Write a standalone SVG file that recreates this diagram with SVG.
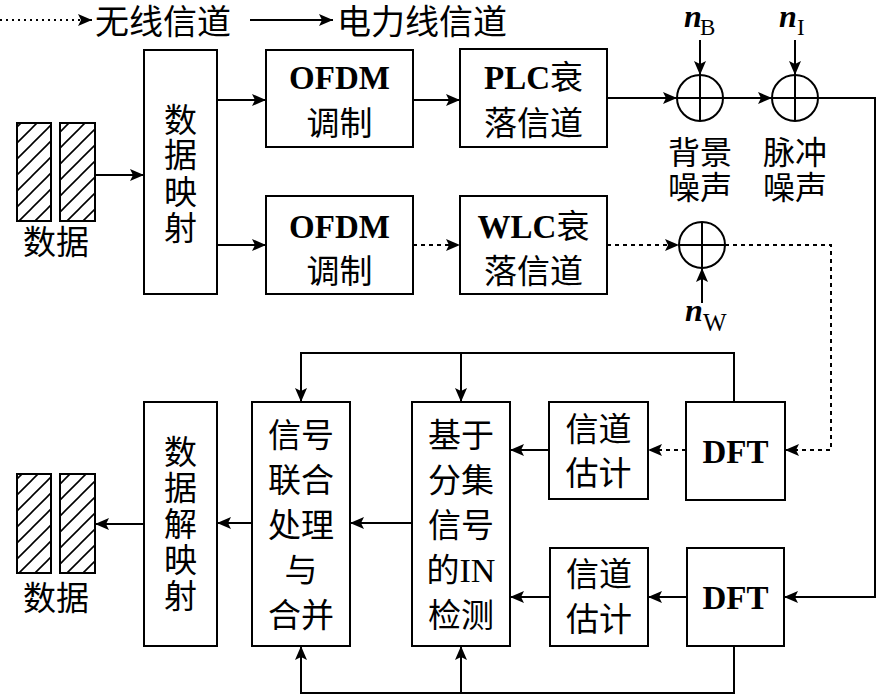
<svg xmlns="http://www.w3.org/2000/svg" width="879" height="697" viewBox="0 0 879 697">
<style>
.box{fill:#fff;stroke:#000;stroke-width:2}
.ln{fill:none;stroke:#000;stroke-width:2}
.dot{fill:none;stroke:#000;stroke-width:2;stroke-dasharray:4 4}
.fine{fill:none;stroke:#000;stroke-width:2;stroke-dasharray:2 4}
.cn{font-family:"Noto Sans CJK SC","Noto Sans CJK JP",sans-serif;font-size:33px;fill:#000;text-anchor:middle}
.lat{font-family:"Liberation Serif","Times New Roman",serif;font-weight:bold;font-size:33px;fill:#000}
.it{font-family:"Liberation Serif","Times New Roman",serif;font-style:italic;font-weight:bold;font-size:32px;fill:#000}
.sub{font-family:"Liberation Serif","Times New Roman",serif;font-size:23px;fill:#000}
.hat{fill:url(#hatch);stroke:#000;stroke-width:2}
</style>
<defs>
<marker id="ah" markerUnits="userSpaceOnUse" markerWidth="14" markerHeight="12" refX="14" refY="6" orient="auto">
<path d="M0,0 L14,6 L0,12 L3,6 Z" fill="#000"/>
</marker>
<pattern id="hatch" patternUnits="userSpaceOnUse" width="16" height="16">
<rect width="16" height="16" fill="#fff"/>
<path d="M-2,18 L18,-2 M-2,2 L2,-2 M14,18 L18,14" stroke="#000" stroke-width="1.6"/>
</pattern>
</defs>

<g id="legend">
<line class="fine" x1="0" y1="20" x2="92" y2="20" marker-end="url(#ah)"/>
<text class="cn" style="font-size:34px;text-anchor:start" x="95" y="34">无线信道</text>
<line class="ln" x1="250" y1="20" x2="333" y2="20" marker-end="url(#ah)"/>
<text class="cn" style="font-size:34px;text-anchor:start" x="337" y="34">电力线信道</text>
</g>

<g id="connectors">
<line class="ln" x1="95" y1="175" x2="144" y2="175" marker-end="url(#ah)"/>
<line class="ln" x1="217" y1="100" x2="266" y2="100" marker-end="url(#ah)"/>
<line class="ln" x1="217" y1="245" x2="266" y2="245" marker-end="url(#ah)"/>
<line class="ln" x1="413" y1="100" x2="460" y2="100" marker-end="url(#ah)"/>
<line class="dot" x1="413" y1="245" x2="460" y2="245" marker-end="url(#ah)"/>
<line class="ln" x1="607" y1="98" x2="677" y2="98" marker-end="url(#ah)"/>
<line class="ln" x1="723" y1="98" x2="772" y2="98" marker-end="url(#ah)"/>
<polyline class="ln" points="818,98 875,98 875,597 784,597" marker-end="url(#ah)"/>
<line class="ln" x1="700" y1="40" x2="700" y2="75" marker-end="url(#ah)"/>
<line class="ln" x1="795" y1="40" x2="795" y2="75" marker-end="url(#ah)"/>
<line class="dot" x1="607" y1="245" x2="679" y2="245" marker-end="url(#ah)"/>
<line class="ln" x1="702" y1="303" x2="702" y2="268" marker-end="url(#ah)"/>
<polyline class="dot" points="725,245 831,245 831,450 785,450" marker-end="url(#ah)"/>
<line class="dot" x1="686" y1="450" x2="648" y2="450" marker-end="url(#ah)"/>
<line class="ln" x1="549" y1="450" x2="510" y2="450" marker-end="url(#ah)"/>
<line class="ln" x1="687" y1="597" x2="648" y2="597" marker-end="url(#ah)"/>
<line class="ln" x1="550" y1="597" x2="510" y2="597" marker-end="url(#ah)"/>
<line class="ln" x1="412" y1="523" x2="350" y2="523" marker-end="url(#ah)"/>
<line class="ln" x1="252" y1="523" x2="217" y2="523" marker-end="url(#ah)"/>
<line class="ln" x1="144" y1="524" x2="95" y2="524" marker-end="url(#ah)"/>
<polyline class="ln" points="734,402 734,353 301,353 301,402" marker-end="url(#ah)"/>
<line class="ln" x1="461" y1="353" x2="461" y2="402" marker-end="url(#ah)"/>
<polyline class="ln" points="734,646 734,693 301,693 301,646" marker-end="url(#ah)"/>
<line class="ln" x1="461" y1="693" x2="461" y2="646" marker-end="url(#ah)"/>
</g>

<g id="data-in">
<rect class="hat" x="17" y="123" width="34" height="98"/>
<rect class="hat" x="60" y="123" width="35" height="98"/>
<text class="cn" x="56" y="254">数据</text>
</g>

<g id="mapping">
<rect class="box" x="144" y="50" width="73" height="244"/>
<text class="cn"><tspan x="180.5" y="132">数</tspan><tspan x="180.5" y="167">据</tspan><tspan x="180.5" y="204">映</tspan><tspan x="180.5" y="240">射</tspan></text>
</g>

<g id="ofdm1">
<rect class="box" x="266" y="50" width="147" height="97"/>
<text class="lat" x="339.5" y="89" text-anchor="middle">OFDM</text>
<text class="cn" x="339.5" y="135">调制</text>
</g>

<g id="ofdm2">
<rect class="box" x="266" y="196" width="147" height="98"/>
<text class="lat" x="339.5" y="238" text-anchor="middle">OFDM</text>
<text class="cn" x="339.5" y="283">调制</text>
</g>

<g id="plc">
<rect class="box" x="460" y="49" width="147" height="98"/>
<text x="533.5" y="89" text-anchor="middle"><tspan class="lat">PLC</tspan><tspan class="cn">衰</tspan></text>
<text class="cn" x="533.5" y="135">落信道</text>
</g>

<g id="wlc">
<rect class="box" x="460" y="196" width="147" height="98"/>
<text x="533.5" y="238" text-anchor="middle"><tspan class="lat">WLC</tspan><tspan class="cn">衰</tspan></text>
<text class="cn" x="533.5" y="283">落信道</text>
</g>

<g id="adder-b">
<circle class="ln" cx="700" cy="98" r="23"/>
<path class="ln" d="M677,98 H723 M700,75 V121"/>
<text class="it" x="684" y="27">n</text><text class="sub" x="700" y="35">B</text>
<text class="cn" style="font-size:32px"><tspan x="700" y="164">背景</tspan><tspan x="700" y="199">噪声</tspan></text>
</g>

<g id="adder-i">
<circle class="ln" cx="795" cy="98" r="23"/>
<path class="ln" d="M772,98 H818 M795,75 V121"/>
<text class="it" x="779" y="27">n</text><text class="sub" x="797" y="35">I</text>
<text class="cn" style="font-size:32px"><tspan x="795" y="164">脉冲</tspan><tspan x="795" y="199">噪声</tspan></text>
</g>

<g id="adder-w">
<circle class="ln" cx="702" cy="245" r="23"/>
<path class="ln" d="M679,245 H725 M702,222 V268"/>
<text class="it" x="685" y="321">n</text><text class="sub" style="font-size:25px" x="703" y="331">W</text>
</g>

<g id="dft1">
<rect class="box" x="686" y="402" width="99" height="98"/>
<text class="lat" x="735.5" y="463" text-anchor="middle">DFT</text>
</g>

<g id="est1">
<rect class="box" x="549" y="402" width="99" height="97"/>
<text class="cn"><tspan x="598.5" y="441">信道</tspan><tspan x="598.5" y="485">估计</tspan></text>
</g>

<g id="dft2">
<rect class="box" x="687" y="548" width="97" height="98"/>
<text class="lat" x="735.5" y="609" text-anchor="middle">DFT</text>
</g>

<g id="est2">
<rect class="box" x="550" y="548" width="98" height="98"/>
<text class="cn"><tspan x="599" y="586">信道</tspan><tspan x="599" y="631">估计</tspan></text>
</g>

<g id="in-detect">
<rect class="box" x="412" y="402" width="98" height="244"/>
<text class="cn"><tspan x="461" y="447">基于</tspan><tspan x="461" y="492">分集</tspan><tspan x="461" y="537">信号</tspan><tspan x="461" y="582">的<tspan class="lat" style="font-weight:normal;font-size:34px">IN</tspan></tspan><tspan x="461" y="627">检测</tspan></text>
</g>

<g id="combine">
<rect class="box" x="252" y="402" width="98" height="244"/>
<text class="cn"><tspan x="301" y="447">信号</tspan><tspan x="301" y="492">联合</tspan><tspan x="301" y="537">处理</tspan><tspan x="301" y="582">与</tspan><tspan x="301" y="627">合并</tspan></text>
</g>

<g id="demapping">
<rect class="box" x="144" y="402" width="73" height="244"/>
<text class="cn"><tspan x="180.5" y="464">数</tspan><tspan x="180.5" y="500">据</tspan><tspan x="180.5" y="536">解</tspan><tspan x="180.5" y="572">映</tspan><tspan x="180.5" y="608">射</tspan></text>
</g>

<g id="data-out">
<rect class="hat" x="17" y="474" width="34" height="99"/>
<rect class="hat" x="60" y="474" width="35" height="99"/>
<text class="cn" x="56" y="610">数据</text>
</g>
</svg>
